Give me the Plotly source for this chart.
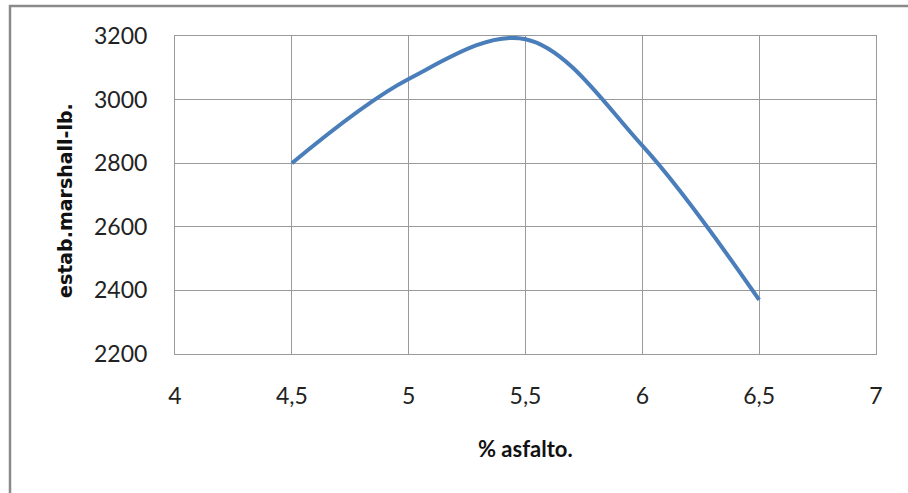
import plotly.graph_objects as go

x_vals = [4.5, 5, 5.5, 6, 6.5]
y_vals = [2800, 3065, 3190, 2855, 2370]
x_ticks = [4, 4.5, 5, 5.5, 6, 6.5, 7]
x_tick_labels = ["4", "4,5", "5", "5,5", "6", "6,5", "7"]
y_ticks = [2200, 2400, 2600, 2800, 3000, 3200]
x_title = "% asfalto."
y_title = "estab.marshall-lb."

W, H = 908, 493
L, R, T, B = 175, 32, 36, 139
pw, ph = W - L - R, H - T - B

fig = go.Figure()
fig.add_trace(go.Scatter(
    x=x_vals, y=y_vals, mode="lines",
    line=dict(color="#4a7ebb", width=4, shape="spline", smoothing=1.0),
    showlegend=False, hoverinfo="x+y"))

grid = "#9a9a9a"
tick_font = dict(family="Lato, 'Open Sans', sans-serif", size=23, color="#222222")
fig.update_xaxes(range=[4, 7], tickvals=x_ticks, ticktext=x_tick_labels,
                 showgrid=True, gridcolor=grid, gridwidth=1,
                 showline=True, linecolor=grid, linewidth=1, mirror=True,
                 zeroline=False, ticks="", ticklabelstandoff=21, tickfont=tick_font)
fig.update_yaxes(range=[2200, 3200], tickvals=y_ticks,
                 showgrid=True, gridcolor=grid, gridwidth=1,
                 showline=True, linecolor=grid, linewidth=1, mirror=True,
                 zeroline=False, ticks="", ticklabelstandoff=22, tickfont=tick_font)

def px(xp):
    return (xp - L) / pw

def py(yp):
    return (H - B - yp) / ph

fig.add_shape(type="rect", xref="paper", yref="paper",
              x0=px(10), x1=px(W + 20), y0=py(H + 20), y1=py(6),
              line=dict(color="#8a8a8a", width=2.5), layer="below")

fig.add_annotation(text="<b>" + x_title + "</b>", xref="paper", yref="paper",
                   x=px(525), y=py(448), xanchor="center", yanchor="middle",
                   showarrow=False,
                   font=dict(family="Lato, 'Open Sans', sans-serif", size=22, color="#111111"))
fig.add_annotation(text="<b>" + y_title + "</b>", xref="paper", yref="paper",
                   x=px(65), y=py(201), xanchor="center", yanchor="middle",
                   textangle=-90, showarrow=False,
                   font=dict(family="'DejaVu Sans', sans-serif", size=19, color="#111111"))

fig.update_layout(width=W, height=H, margin=dict(l=L, r=R, t=T, b=B),
                  paper_bgcolor="white", plot_bgcolor="white")
fig.write_html("out.html")
